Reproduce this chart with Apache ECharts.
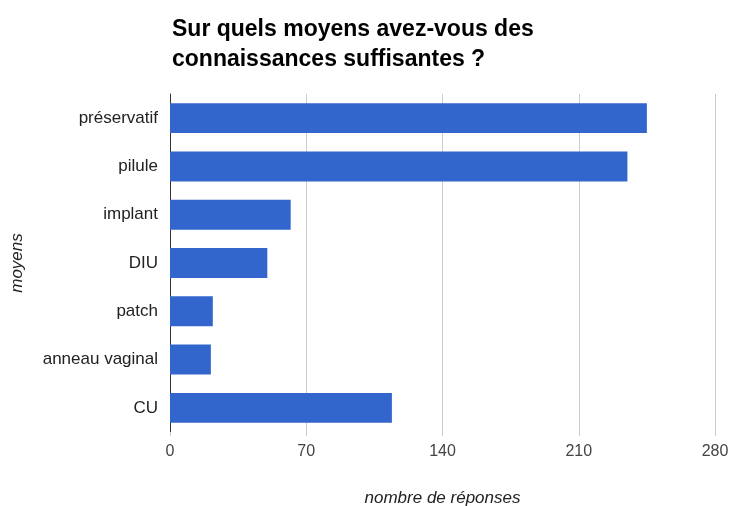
<!DOCTYPE html>
<html>
<head>
<meta charset="utf-8">
<script src="https://cdn.jsdelivr.net/npm/echarts@6/dist/echarts.min.js"></script>
<style>
	html, body { margin: 0; padding: 0; background: #fff; }
	#main { width: 731px; height: 506px; }
</style>
</head>
<body>
<div id="main"></div>
<script>
	// moyens de contraception
	var categories = ["préservatif", "pilule", "implant", "DIU", "patch", "anneau vaginal", "CU"];
	var reponses = [245, 235, 62, 50, 22, 21, 114];
	var xTicks = [0, 70, 140, 210, 280];

	var chart = echarts.init(document.getElementById("main"));
	chart.setOption({
		animation: false,
		textStyle: { fontFamily: "Liberation Sans, Arial, sans-serif" },
		title: {
			text: "Sur quels moyens avez-vous des\nconnaissances suffisantes ?",
			left: 167,
			top: 10,
			textStyle: {
				fontSize: 23,
				fontWeight: "bold",
				color: "#000",
				lineHeight: 30,
			},
		},
		grid: {
			left: 170,
			right: 16,
			top: 94,
			bottom: 74,
			containLabel: false,
			outerBoundsMode: "none",
		},
		xAxis: {
			type: "value",
			min: xTicks[0],
			max: xTicks[xTicks.length - 1],
			interval: 70,
			name: "nombre de réponses",
			nameLocation: "middle",
			nameGap: 58,
			nameTextStyle: { fontStyle: "italic", fontSize: 17, color: "#222" },
			axisLine: { show: false },
			axisTick: { show: true, length: 4, lineStyle: { color: "#ccc" } },
			axisLabel: { fontSize: 16, color: "#444", margin: 12 },
			splitLine: { show: true, lineStyle: { color: "#ccc", width: 1 } },
		},
		yAxis: {
			type: "category",
			data: categories,
			inverse: true,
			name: "moyens",
			nameLocation: "middle",
			nameGap: 144,
			nameRotate: 90,
			nameTextStyle: { fontStyle: "italic", fontSize: 17, color: "#222" },
			axisLine: { show: true, lineStyle: { color: "#333", width: 1 } },
			axisTick: { show: false },
			axisLabel: { fontSize: 17, color: "#222", margin: 12 },
			splitLine: { show: false },
		},
		series: [{
			type: "bar",
			data: reponses,
			barCategoryGap: "38%",
			itemStyle: { color: "#3366cc" },
		}],
	});
</script>
</body>
</html>
